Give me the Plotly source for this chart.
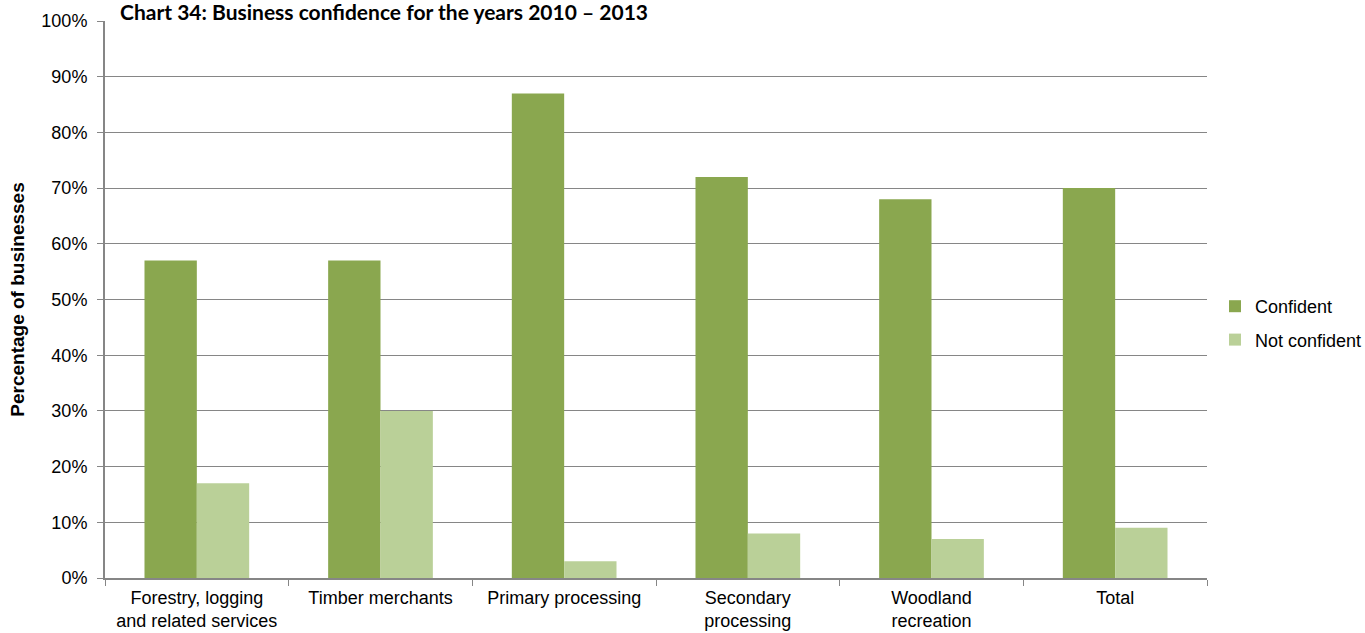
import plotly.graph_objects as go

categories = [
    "Forestry, logging<br>and related services",
    "Timber merchants",
    "Primary processing",
    "Secondary<br>processing",
    "Woodland<br>recreation",
    "Total",
]
confident = [57, 57, 87, 72, 68, 70]
not_confident = [17, 30, 3, 8, 7, 9]
y_ticks = [0, 10, 20, 30, 40, 50, 60, 70, 80, 90, 100]
y_tick_labels = [f"{v}%" for v in y_ticks]

SANS = "Liberation Sans, Arial, sans-serif"

fig = go.Figure()
fig.add_trace(go.Bar(name="Confident", x=categories, y=confident, legendgroup="c",
                     marker=dict(color="#8aa74f", line=dict(width=0))))
fig.add_trace(go.Bar(name="Not confident", x=categories, y=not_confident, legendgroup="n",
                     marker=dict(color="#bad098", line=dict(width=0))))

fig.update_layout(
    width=1365, height=633,
    margin=dict(l=105, r=158, t=21, b=55, autoexpand=False),
    paper_bgcolor="white", plot_bgcolor="white",
    barmode="group", bargap=0.43, bargroupgap=0,
    font=dict(family=SANS, size=18, color="#000000"),
    title=dict(text="<b>Chart 34: Business confidence for the years 2010 – 2013</b>",
               font=dict(family="Lato, sans-serif", size=21, color="#000000"),
               x=0, xref="paper", xanchor="left", y=1, yref="container", yanchor="top",
               pad=dict(l=15, t=5)),
    legend=dict(xref="container", yref="container", x=1215 / 1365, y=(633 - 323) / 633,
                xanchor="left", yanchor="middle",
                font=dict(family=SANS, size=18, color="#000000"),
                itemwidth=30, tracegroupgap=7, traceorder="grouped",
                bgcolor="rgba(0,0,0,0)"),
    xaxis=dict(showline=True, linecolor="#868686", linewidth=2, automargin=False,
               ticks="outside", tickson="boundaries", ticklen=6, tickcolor="#868686",
               tickwidth=1, tickfont=dict(family=SANS, size=18), showgrid=False,
               ticklabelstandoff=2),
    yaxis=dict(range=[0, 100], tickvals=y_ticks, ticktext=y_tick_labels, automargin=False,
               showline=True, linecolor="#868686", linewidth=2, ticks="outside",
               ticklen=6, tickcolor="#868686", showgrid=True, gridcolor="#868686",
               gridwidth=1, tickfont=dict(family=SANS, size=18), zeroline=False,
               ticklabelstandoff=6,
               title=dict(text="<b>Percentage of businesses</b>",
                          font=dict(family=SANS, size=19), standoff=12)),
)

fig.write_html("out.html")
